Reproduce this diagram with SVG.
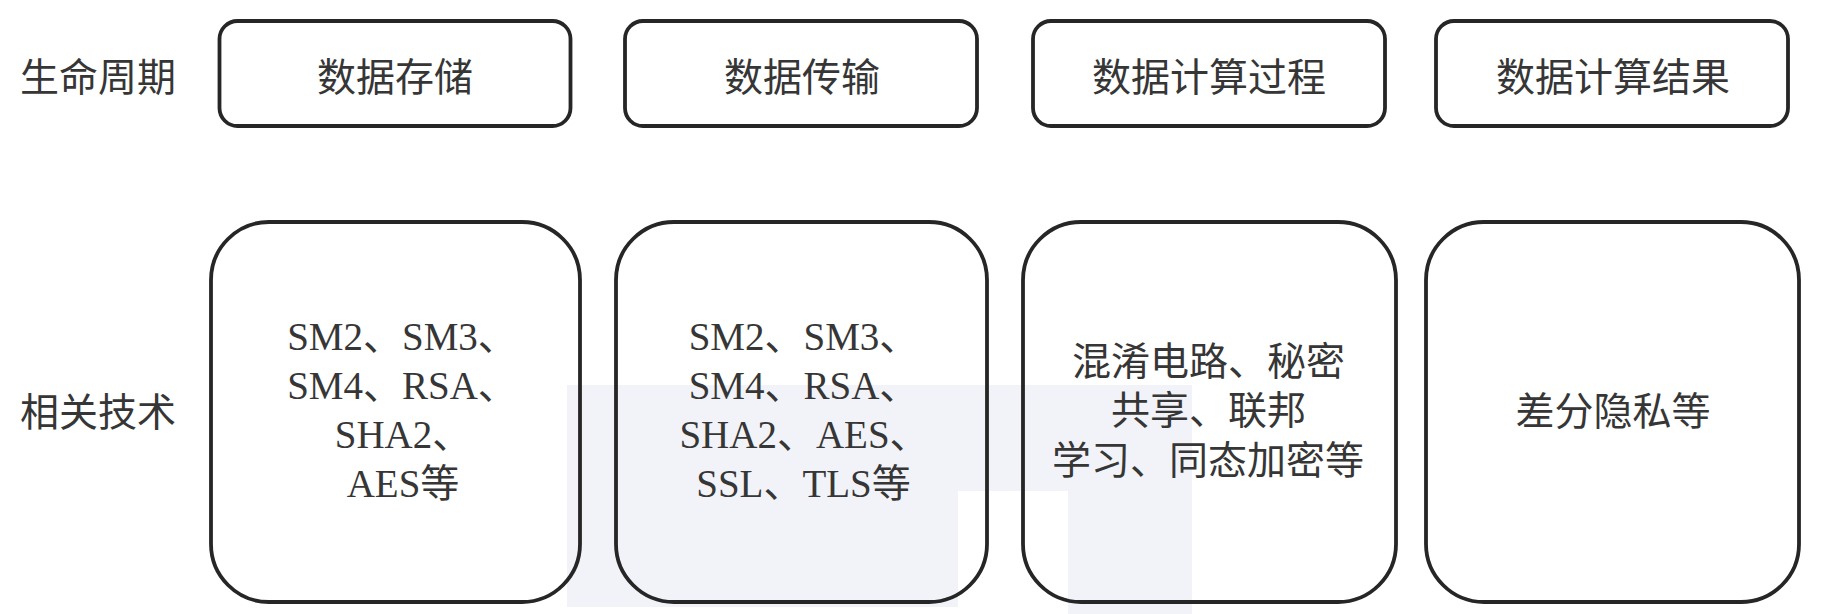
<svg xmlns="http://www.w3.org/2000/svg" width="1827" height="614" viewBox="0 0 1827 614">
<style>
.box{fill:none;stroke:#262626;stroke-width:3.8}
.t{font-family:"Liberation Serif","Noto Sans CJK SC",serif;font-size:39px;fill:#363636;text-anchor:middle}
.lbl{font-family:"Noto Sans CJK SC",sans-serif;font-size:39px;fill:#363636}
</style>
<rect width="1827" height="614" fill="#fff"/>
<g id="watermark" fill="#f2f3f8">
<path d="M567 385 H1192 V614 H1068 V491 H958 V607 H567 Z"/>
</g>
<g id="row-labels">
<text class="lbl" x="20" y="91">生命周期</text>
<text class="lbl" x="20" y="426">相关技术</text>
</g>
<g id="stage-storage">
<rect class="box" x="219.5" y="21" width="351" height="105" rx="18"/>
<text class="t" x="395" y="91">数据存储</text>
</g>
<g id="stage-transfer">
<rect class="box" x="625" y="21" width="352" height="105" rx="18"/>
<text class="t" x="802" y="91">数据传输</text>
</g>
<g id="stage-compute">
<rect class="box" x="1033" y="21" width="352" height="105" rx="18"/>
<text class="t" x="1209" y="91">数据计算过程</text>
</g>
<g id="stage-result">
<rect class="box" x="1436" y="21" width="352" height="105" rx="18"/>
<text class="t" x="1613" y="91">数据计算结果</text>
</g>
<g id="tech-storage">
<rect class="box" x="211" y="222" width="369" height="380" rx="58"/>
<text class="t" x="402" y="350">SM2、SM3、</text>
<text class="t" x="402" y="399">SM4、RSA、</text>
<text class="t" x="403" y="448">SHA2、</text>
<text class="t" x="403" y="497">AES等</text>
</g>
<g id="tech-transfer">
<rect class="box" x="616" y="222" width="371" height="380" rx="58"/>
<text class="t" x="803.5" y="350">SM2、SM3、</text>
<text class="t" x="803.5" y="399">SM4、RSA、</text>
<text class="t" x="804" y="448">SHA2、AES、</text>
<text class="t" x="803.5" y="497">SSL、TLS等</text>
</g>
<g id="tech-compute">
<rect class="box" x="1023" y="222" width="373" height="380" rx="58"/>
<text class="t" x="1208.5" y="375">混淆电路、秘密</text>
<text class="t" x="1208.5" y="424">共享、联邦</text>
<text class="t" x="1208" y="474">学习、同态加密等</text>
</g>
<g id="tech-result">
<rect class="box" x="1426" y="222" width="373" height="380" rx="58"/>
<text class="t" x="1613" y="425">差分隐私等</text>
</g>
<g id="connectors"/>
</svg>
